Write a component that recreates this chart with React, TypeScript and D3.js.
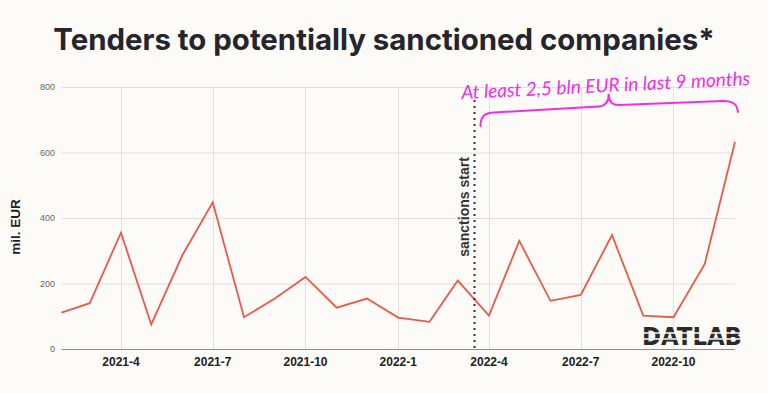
import React, { useEffect, useRef } from 'react';
import * as d3 from 'd3';

// monthly totals of tenders, mil. EUR
const months = [
  '2021-02', '2021-03', '2021-04', '2021-05', '2021-06', '2021-07', '2021-08',
  '2021-09', '2021-10', '2021-11', '2021-12', '2022-01', '2022-02', '2022-03',
  '2022-04', '2022-05', '2022-06', '2022-07', '2022-08', '2022-09', '2022-10',
  '2022-11', '2022-12',
];
const values = [
  111, 140, 355, 75, 287, 448, 97, 155, 220, 126, 154, 96, 83, 209,
  102, 330, 147, 165, 348, 102, 97, 260, 633,
];
const xTicks = ['2021-04', '2021-07', '2021-10', '2022-01', '2022-04', '2022-07', '2022-10'];
const yTicks = [0, 200, 400, 600, 800];
const sanctionsDate = '2022-03-17';
const annotationText = 'At least 2,5 bln EUR in last 9 months';

const W = 768;
const H = 393;
const parse = d3.timeParse('%Y-%m');
const fmtTick = (d: Date) => `${d.getFullYear()}-${d.getMonth() + 1}`;

const App: React.FC = () => {
  const svgRef = useRef<SVGSVGElement>(null);

  useEffect(() => {
    if (!svgRef.current) return;
    const svg = d3.select(svgRef.current);
    svg.selectAll('*').remove();

    const data = months.map((m, i) => ({ date: parse(m) as Date, value: values[i] }));

    const x = d3.scaleTime()
      .domain([parse(months[0]) as Date, parse(months[months.length - 1]) as Date])
      .range([61.5, 735]);
    const y = d3.scaleLinear().domain([0, 800]).range([349, 87]);

    svg.append('rect').attr('width', W).attr('height', H).attr('fill', '#fdfbf8');

    // title
    svg.append('text')
      .attr('x', 384).attr('y', 50)
      .attr('text-anchor', 'middle')
      .attr('font-family', 'Inter, sans-serif')
      .attr('font-weight', 700)
      .attr('font-size', 29.4)
      .attr('fill', '#26242c')
      .text('Tenders to potentially sanctioned companies*');

    // grid
    const grid = svg.append('g').attr('stroke', '#e4dfda').attr('stroke-width', 1);
    grid.selectAll('line.h')
      .data(yTicks.filter(v => v > 0))
      .join('line')
      .attr('x1', x.range()[0]).attr('x2', x.range()[1])
      .attr('y1', d => y(d) + 0.5).attr('y2', d => y(d) + 0.5);
    grid.selectAll('line.v')
      .data(xTicks.map(t => parse(t) as Date))
      .join('line')
      .attr('x1', d => Math.round(x(d)) + 0.5).attr('x2', d => Math.round(x(d)) + 0.5)
      .attr('y1', y(800)).attr('y2', y(0));

    // zero axis
    svg.append('line')
      .attr('x1', x.range()[0]).attr('x2', x.range()[1])
      .attr('y1', y(0) + 0.5).attr('y2', y(0) + 0.5)
      .attr('stroke', '#8e8e8e').attr('stroke-width', 1);

    // y ticks
    svg.append('g')
      .selectAll('text')
      .data(yTicks)
      .join('text')
      .attr('x', 55).attr('y', d => y(d) + 3)
      .attr('text-anchor', 'end')
      .attr('font-family', 'Liberation Sans, Arial, sans-serif')
      .attr('font-size', 9)
      .attr('fill', '#666')
      .text(d => d);

    svg.append('text')
      .attr('transform', 'translate(20,227) rotate(-90)')
      .attr('text-anchor', 'middle')
      .attr('font-family', 'Liberation Sans, Arial, sans-serif')
      .attr('font-weight', 700)
      .attr('font-size', 13.5)
      .attr('fill', '#222')
      .text('mil. EUR');

    // x ticks
    svg.append('g')
      .selectAll('text')
      .data(xTicks.map(t => parse(t) as Date))
      .join('text')
      .attr('x', d => x(d)).attr('y', 366)
      .attr('text-anchor', 'middle')
      .attr('font-family', 'Liberation Sans, Arial, sans-serif')
      .attr('font-weight', 700)
      .attr('font-size', 12)
      .attr('fill', '#222')
      .text(d => fmtTick(d));

    // line
    const line = d3.line<{ date: Date; value: number }>()
      .x(d => x(d.date))
      .y(d => y(d.value));
    svg.append('path')
      .datum(data)
      .attr('d', line)
      .attr('fill', 'none')
      .attr('stroke', '#ea5a4a')
      .attr('stroke-width', 1.8)
      .attr('stroke-linejoin', 'miter');

    // sanctions marker
    const sx = Math.round(x(d3.timeParse('%Y-%m-%d')(sanctionsDate) as Date)) + 0.5;
    svg.append('line')
      .attr('x1', sx).attr('x2', sx)
      .attr('y1', 100).attr('y2', y(0))
      .attr('stroke', '#333')
      .attr('stroke-width', 2)
      .attr('stroke-dasharray', '2,4');
    svg.append('text')
      .attr('transform', `translate(${sx - 6},207) rotate(-90)`)
      .attr('text-anchor', 'middle')
      .attr('font-family', 'Liberation Sans, Arial, sans-serif')
      .attr('font-weight', 700)
      .attr('font-size', 14)
      .attr('fill', '#333')
      .text('sanctions start');

    // brace annotation
    const bx0 = sx + 6;
    const bx1 = x(parse(months[months.length - 1]) as Date) + 2;
    const bm = (bx0 + bx1) / 2;
    const brace = d3.path();
    brace.moveTo(bx0, 126);
    brace.bezierCurveTo(bx0, 116, bx0 + 4, 113, bx0 + 14, 112.5);
    brace.lineTo(bm - 10, 106.5);
    brace.bezierCurveTo(bm - 3, 106, bm, 101, bm, 94);
    brace.bezierCurveTo(bm, 101, bm + 3, 105, bm + 10, 105);
    brace.lineTo(bx1 - 14, 101);
    brace.bezierCurveTo(bx1 - 4, 101, bx1, 104, bx1 + 1, 112);
    svg.append('path')
      .attr('d', brace.toString())
      .attr('fill', 'none')
      .attr('stroke', '#f22ee8')
      .attr('stroke-width', 2)
      .attr('stroke-linecap', 'round');

    svg.append('text')
      .attr('transform', 'translate(606,92) rotate(-2.8)')
      .attr('text-anchor', 'middle')
      .attr('font-family', 'Lato, sans-serif')
      .attr('font-style', 'italic')
      .attr('font-size', 19)
      .attr('fill', '#f22ee8')
      .text(annotationText);

    // DATLAB logo
    const logo = svg.append('g');
    logo.append('text')
      .attr('x', 692).attr('y', 345)
      .attr('text-anchor', 'middle')
      .attr('font-family', 'DejaVu Sans, sans-serif')
      .attr('font-weight', 700)
      .attr('font-size', 25)
      .attr('textLength', 100)
      .attr('lengthAdjust', 'spacingAndGlyphs')
      .attr('fill', '#2a2a2a')
      .text('DATLAB');
    [333, 339].forEach(yy => {
      logo.append('line')
        .attr('x1', 640).attr('x2', 744)
        .attr('y1', yy).attr('y2', yy)
        .attr('stroke', '#fdfbf8').attr('stroke-width', 1.6);
    });
  }, []);

  return (
    <div style={{ position: 'fixed', left: 0, top: 0 }}>
      <svg ref={svgRef} width={W} height={H} style={{ display: 'block' }} />
    </div>
  );
};

export default App;
